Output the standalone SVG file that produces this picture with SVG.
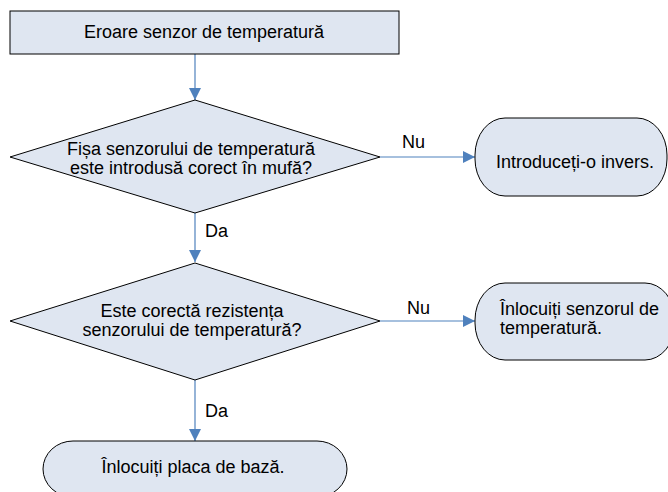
<svg xmlns="http://www.w3.org/2000/svg" width="668" height="492" viewBox="0 0 668 492">
<style>
.shape{fill:#dfe6f1;stroke:#000;stroke-width:1}
.t{font-family:"Liberation Sans",Arial,sans-serif;font-size:18px;fill:#000}
.c{text-anchor:middle}
.edge{stroke:#4f81bd;stroke-width:1.2;fill:none}
</style>
<defs>
<marker id="ah" viewBox="0 0 12 12" refX="12" refY="6" markerWidth="12" markerHeight="12" markerUnits="userSpaceOnUse" orient="auto">
<path d="M0,0 L12,6 L0,12 Z" fill="#4f81bd"/>
</marker>
</defs>
<rect width="668" height="492" fill="#fff"/>
<g id="connectors">
<line class="edge" x1="195" y1="54" x2="195" y2="100" marker-end="url(#ah)"/>
<line class="edge" x1="380" y1="157" x2="475" y2="157" marker-end="url(#ah)"/>
<line class="edge" x1="195" y1="213" x2="195" y2="262" marker-end="url(#ah)"/>
<line class="edge" x1="380" y1="321" x2="475" y2="321" marker-end="url(#ah)"/>
<line class="edge" x1="195" y1="380" x2="195" y2="441" marker-end="url(#ah)"/>
<text class="t" x="402" y="148">Nu</text>
<text class="t" x="205" y="237">Da</text>
<text class="t" x="407" y="314">Nu</text>
<text class="t" x="205" y="417">Da</text>
</g>
<g id="start">
<rect class="shape" x="10" y="11" width="389" height="43"/>
<text class="t c" x="204" y="38">Eroare senzor de temperatură</text>
</g>
<g id="decision1">
<polygon class="shape" points="195,100 380,157 195,213 10,157"/>
<text class="t c" x="191" y="155">Fișa senzorului de temperatură</text>
<text class="t c" x="191" y="174">este introdusă corect în mufă?</text>
</g>
<g id="action1">
<rect class="shape" x="475" y="118" width="192" height="78" rx="30" ry="37"/>
<text class="t c" x="575" y="168">Introduceți-o invers.</text>
</g>
<g id="decision2">
<polygon class="shape" points="195,263 380,321 195,380 10,321"/>
<text class="t c" x="192" y="317">Este corectă rezistența</text>
<text class="t c" x="192" y="336">senzorului de temperatură?</text>
</g>
<g id="action2">
<rect class="shape" x="475" y="283" width="200" height="77" rx="30" ry="37"/>
<text class="t" x="500" y="315">Înlocuiți senzorul de</text>
<text class="t" x="500" y="334">temperatură.</text>
</g>
<g id="end">
<rect class="shape" x="43" y="441" width="304" height="56" rx="30" ry="28"/>
<text class="t c" x="193" y="473">Înlocuiți placa de bază.</text>
</g>
</svg>
